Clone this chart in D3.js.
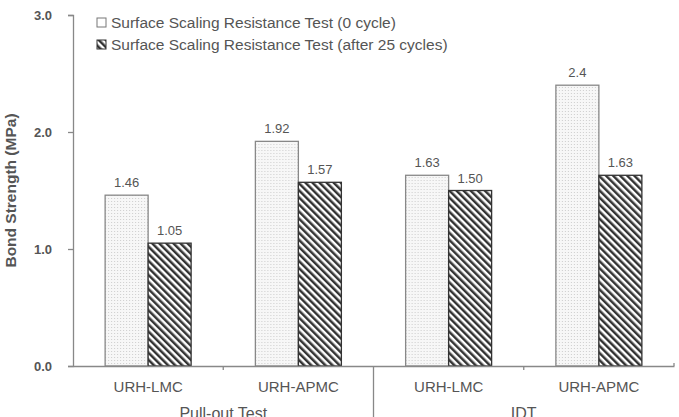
<!DOCTYPE html>
<html>
<head>
<meta charset="utf-8">
<script src="https://cdn.jsdelivr.net/npm/d3@7"></script>
<style>
  body { margin: 0; background: #fff; }
  text { font-family: "Liberation Sans", Arial, sans-serif; fill: #555; }
</style>
</head>
<body>
<svg id="chart" width="679" height="417"></svg>
<script>
const categories = ['URH-LMC', 'URH-APMC', 'URH-LMC', 'URH-APMC'];
const groups = ['Pull-out Test', 'IDT'];
const series = ['Surface Scaling Resistance Test (0 cycle)', 'Surface Scaling Resistance Test (after 25 cycles)'];
const values0 = [1.46, 1.92, 1.63, 2.4];
const values25 = [1.05, 1.57, 1.50, 1.63];
const labels0 = ['1.46', '1.92', '1.63', '2.4'];
const labels25 = ['1.05', '1.57', '1.50', '1.63'];
const yTicks = [0, 1, 2, 3];

const svg = d3.select('#chart');
const margin = { left: 73, right: 5, top: 15, bottom: 51 };
const width = +svg.attr('width');
const height = +svg.attr('height');

// patterns for the two series
const defs = svg.append('defs');
const dots = defs.append('pattern').attr('id', 'dots')
  .attr('patternUnits', 'userSpaceOnUse').attr('width', 3).attr('height', 3);
dots.append('rect').attr('width', 3).attr('height', 3).attr('fill', '#f7f7f7');
dots.append('rect').attr('width', 1).attr('height', 1).attr('fill', '#cdcdcd');
const hatch = defs.append('pattern').attr('id', 'hatch')
  .attr('patternUnits', 'userSpaceOnUse').attr('width', 5).attr('height', 5)
  .attr('patternTransform', 'rotate(-45)');
hatch.append('rect').attr('width', 5).attr('height', 5).attr('fill', '#fff');
hatch.append('rect').attr('width', 2.5).attr('height', 5).attr('fill', '#333');

const y = d3.scaleLinear().domain([0, 3]).range([height - margin.bottom, margin.top]);
const x = d3.scaleBand().domain(d3.range(categories.length))
  .range([margin.left, width - margin.right]);
const xs = d3.scaleBand().domain([0, 1]).range([0, 86]);

const data = categories.map((c, i) => ({
  i, c,
  vals: [{ s: 0, v: values0[i], l: labels0[i] }, { s: 1, v: values25[i], l: labels25[i] }]
}));

// bars
const cat = svg.selectAll('g.cat').data(data).enter().append('g')
  .attr('class', 'cat')
  .attr('transform', d => `translate(${x(d.i) + x.bandwidth() / 2 - 43},0)`);
cat.selectAll('rect').data(d => d.vals).enter().append('rect')
  .attr('x', d => xs(d.s))
  .attr('width', xs.bandwidth())
  .attr('y', d => y(d.v))
  .attr('height', d => y(0) - y(d.v))
  .attr('fill', d => d.s === 0 ? 'url(#dots)' : 'url(#hatch)')
  .attr('stroke', d => d.s === 0 ? '#888' : '#333')
  .attr('stroke-width', 1.3);
cat.selectAll('text').data(d => d.vals).enter().append('text')
  .attr('x', d => xs(d.s) + xs.bandwidth() / 2)
  .attr('y', d => y(d.v) - 8)
  .attr('text-anchor', 'middle')
  .style('font-size', '13px')
  .text(d => d.l);

// y axis
const yAxis = svg.append('g').attr('transform', `translate(${margin.left},0)`)
  .call(d3.axisLeft(y).tickValues(yTicks).tickFormat(d3.format('.1f')).tickSize(5).tickPadding(16));
yAxis.select('.domain').attr('stroke', '#888').attr('stroke-width', 1.3);
yAxis.selectAll('.tick line').attr('stroke', '#888').attr('stroke-width', 1.3);
yAxis.selectAll('.tick text').style('font-size', '13px').style('font-weight', 'bold')
  .attr('fill', '#666').style('font-family', '"Liberation Sans", Arial, sans-serif');

// x axis
const x0 = y(0);
const xAxis = svg.append('g').attr('transform', `translate(0,${x0})`)
  .call(d3.axisBottom(x).tickFormat(i => categories[i]).tickSize(0).tickPadding(15));
xAxis.select('.domain').attr('stroke', '#888').attr('stroke-width', 1.3);
xAxis.selectAll('.tick text').style('font-size', '15px')
  .attr('fill', '#666').style('font-family', '"Liberation Sans", Arial, sans-serif');
// small separators between categories and group divider
const bounds = [1, 3].map(i => x(i));
svg.selectAll('line.sep').data(bounds).enter().append('line')
  .attr('x1', d => d).attr('x2', d => d)
  .attr('y1', x0).attr('y2', x0 + 4)
  .attr('stroke', '#888').attr('stroke-width', 1.3);
svg.append('line').attr('x1', x(2)).attr('x2', x(2))
  .attr('y1', x0).attr('y2', height)
  .attr('stroke', '#888').attr('stroke-width', 1.3);
svg.append('line').attr('x1', x.range()[1]).attr('x2', x.range()[1])
  .attr('y1', x0 - 3).attr('y2', x0)
  .attr('stroke', '#888').attr('stroke-width', 1.3);

// group labels (cut by the bottom edge, as in the source)
svg.selectAll('text.grp').data(groups).enter().append('text')
  .attr('class', 'grp')
  .attr('x', (d, i) => (x(i * 2) + x(i * 2 + 1) + x.bandwidth()) / 2)
  .attr('y', height + 2)
  .attr('text-anchor', 'middle')
  .style('font-size', '16px')
  .text(d => d);

// y label
svg.append('text')
  .attr('transform', `translate(16,${(y(0) + y(3)) / 2}) rotate(-90)`)
  .attr('text-anchor', 'middle')
  .style('font-size', '15.5px').style('font-weight', 'bold')
  .attr('fill', '#666')
  .text('Bond Strength (MPa)');

// legend
const lg = svg.selectAll('g.lg').data(series).enter().append('g')
  .attr('class', 'lg')
  .attr('transform', (d, i) => `translate(97,${18 + i * 22})`);
lg.append('rect').attr('width', 9).attr('height', 9)
  .attr('fill', (d, i) => i === 0 ? '#fff' : 'url(#hatch)')
  .attr('stroke', (d, i) => i === 0 ? '#777' : '#333').attr('stroke-width', 1);
lg.append('text').attr('x', 14).attr('y', 10)
  .style('font-size', '15.5px')
  .text(d => d);
</script>
</body>
</html>
